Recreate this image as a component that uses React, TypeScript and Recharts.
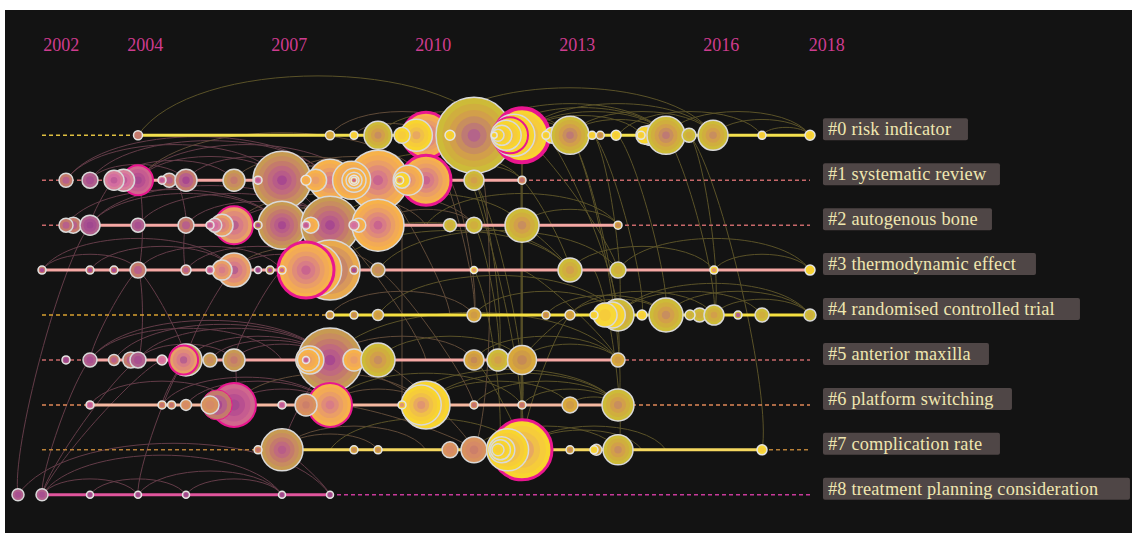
import React from "react";
import { ComposedChart, Line, Scatter, XAxis, YAxis } from "recharts";

const yearLabelAt = [2002.4, 2004.15, 2007.15, 2010.15, 2013.15, 2016.15, 2018.35];

const clusterNames = [
  "#0 risk indicator",
  "#1 systematic review",
  "#2 autogenous bone",
  "#3 thermodynamic effect",
  "#4 randomised controlled trial",
  "#5 anterior maxilla",
  "#6 platform switching",
  "#7 complication rate",
  "#8 treatment planning consideration",
];

// [year, size, tone, burst]
type NodeRow = [number, number, string, number?][];

const row0: NodeRow = [
  [2004, 4.5, "m"], [2008, 4.5, "d"], [2008.5, 4, "s"], [2009, 14, "g"], [2010, 23, "o", 3], [2009.8, 16, "y"], [2009.5, 8, "y"],
  [2010.5, 5, "y"], [2011, 38, "g"], [2012, 27, "y", 4], [2011.83, 21, "y"], [2011.75, 18, "y", 2], [2011.67, 15, "y"], [2011.58, 10, "y"],
  [2011.5, 6, "y"], [2011.42, 3, "s"], [2012.63, 8, "y"], [2012.5, 4, "s"], [2013, 19, "g"], [2013.46, 4, "s"], [2013.63, 4, "d"], [2013.96, 5, "s"],
  [2014.67, 10, "y"], [2014.56, 9, "y"], [2014.48, 4, "s"], [2015, 19, "g"], [2015.48, 7, "g"], [2015.98, 15, "g"], [2017, 4, "s"], [2018, 5, "s"],
];
const row1: NodeRow = [
  [2002.5, 7, "m"], [2003, 8, "p"], [2004, 15, "r", 2], [2003.7, 11, "k"], [2003.5, 10, "k"], [2004.65, 7, "m"], [2004.5, 4, "k"], [2005, 11, "m"],
  [2006, 11, "t"], [2007, 29, "t"], [2006.5, 4, "k"], [2008, 21, "o"], [2007.7, 11, "o"], [2007.5, 5, "o"], [2009, 30, "o"], [2008.45, 19, "o"],
  [2008.5, 12, "o"], [2008.5, 8, "o"], [2008.5, 5, "o"], [2008.5, 3, "o"], [2010, 25, "o", 3], [2009.63, 15, "o"], [2009.5, 8, "y"], [2009.45, 4, "y"], [2011, 10, "g"], [2012, 4, "c"],
];
const row2: NodeRow = [
  [2002.65, 8, "m"], [2002.5, 7, "m"], [2003, 10, "p"], [2004, 7, "p"], [2005, 8, "m"], [2006, 19, "e", 2], [2005.75, 11, "e"], [2005.6, 7, "k"], [2005.5, 4, "k"], [2006.5, 4, "t"],
  [2007, 24, "t"], [2008, 29, "t"], [2007.6, 8, "o"], [2007.5, 4, "k"], [2009, 26, "o"], [2008.6, 7, "o"], [2008.5, 5, "k"], [2010.5, 6.5, "g"], [2011, 8, "g"], [2012, 17, "g"], [2014, 4, "d"],
];
const row3: NodeRow = [
  [2002, 4, "m"], [2003, 4, "m"], [2003.5, 4, "m"], [2004, 8, "m"], [2005, 5, "m"], [2006, 17, "e"], [2005.75, 10, "e"], [2005.5, 4, "k"], [2006.5, 3.5, "p"], [2006.75, 4, "t"],
  [2007, 4, "o"], [2008, 30, "q"], [2007.7, 26, "o"], [2007.5, 28, "o", 3], [2008.5, 4, "m"], [2009, 7, "t"], [2011, 3.5, "y"], [2013, 12, "g"], [2014, 8, "g"], [2016, 4, "y"], [2018, 5, "y"],
];
const row4: NodeRow = [
  [2008, 4, "d"], [2008.5, 4, "d"], [2009, 5.5, "d"], [2011, 7, "d"], [2012.5, 4, "d"], [2013, 5, "d"], [2014, 16, "g"], [2013.88, 13, "y"], [2013.73, 12, "s"], [2013.5, 4, "s"],
  [2014.5, 5, "s"], [2015, 17, "g"], [2015.5, 5, "g"], [2015.7, 7, "g"], [2016, 10, "g"], [2016.5, 4, "g"], [2017, 7, "g"], [2018, 6, "g"],
];
const row5: NodeRow = [
  [2002.5, 4, "p"], [2003, 7, "p"], [2003.5, 5.5, "m"], [2003.85, 8, "m"], [2004, 8, "p"], [2004.5, 5, "k"], [2005, 16, "t"], [2004.95, 14.5, "e", 2], [2005.5, 7, "t"], [2006, 11, "t"],
  [2008, 32, "t"], [2007.58, 14, "o"], [2007.55, 11, "o"], [2007.5, 3.5, "k"], [2008.5, 11, "o"], [2009, 17, "g"], [2011, 10, "d"], [2011.5, 11, "g"], [2012, 14.5, "d"], [2014, 7, "d"],
];
const row6: NodeRow = [
  [2003, 4, "k"], [2004.5, 4, "c"], [2004.7, 4, "c"], [2005, 5.5, "c"], [2006, 22, "r", 2], [2005.65, 15, "m", 1], [2005.5, 9, "c"], [2007, 4, "k"], [2008, 22, "o", 2], [2007.5, 11, "c"],
  [2010, 24, "y"], [2009.9, 20, "y"], [2009.5, 4, "y"], [2011, 4, "c"], [2012, 4, "c"], [2013, 8, "d"], [2014, 16, "g"],
];
const row7: NodeRow = [
  [2006.5, 4, "c"], [2007, 21, "t"], [2008.5, 4, "d"], [2009, 4, "d"], [2010.5, 8, "c"], [2011, 13, "c"], [2012, 30, "y", 3], [2011.7, 21, "y"], [2011.58, 13, "y"], [2011.55, 10, "y"], [2011.5, 6, "y"],
  [2013, 4, "d"], [2013.55, 5.5, "d"], [2013.5, 4, "s"], [2014, 15, "g"], [2017, 5, "s"],
];
const row8: NodeRow = [[2001.5, 6, "p"], [2002, 6, "p"], [2003, 3.5, "p"], [2004, 3.5, "p"], [2005, 3.5, "p"], [2007, 3.5, "p"], [2008, 3.5, "p"]];

const nodeRows = [row0, row1, row2, row3, row4, row5, row6, row7, row8];

// [row, from, to, solid]
const rowSpans: [number, number, number, boolean][] = [
  [0, 2002, 2004, false], [0, 2004, 2018, true],
  [1, 2002, 2004, false], [1, 2004, 2012, true], [1, 2012, 2018, false],
  [2, 2002, 2003, false], [2, 2003, 2014, true], [2, 2014, 2018, false],
  [3, 2002, 2018, true],
  [4, 2002, 2008, false], [4, 2008, 2018, true],
  [5, 2002, 2003, false], [5, 2003, 2014, true], [5, 2014, 2018, false],
  [6, 2002, 2003, false], [6, 2003, 2014, true], [6, 2014, 2018, false],
  [7, 2002, 2007, false], [7, 2007, 2017, true], [7, 2017, 2018, false],
  [8, 2002, 2008, true], [8, 2008, 2018, false],
];

// same row co-citations: [row, from, to]
const sameRowLinks: [number, number, number][] = [
  [0, 2004, 2011.5], [0, 2008, 2011], [0, 2008.5, 2010], [0, 2009, 2012], [0, 2010, 2013], [0, 2011, 2013], [0, 2011, 2015], [0, 2012, 2015], [0, 2011.5, 2015],
  [0, 2012, 2016], [0, 2012, 2014.5], [0, 2013, 2016], [0, 2013, 2015], [0, 2014, 2017], [0, 2015, 2018], [0, 2016, 2018], [0, 2010, 2016], [0, 2017, 2018],
  [1, 2002.5, 2007], [1, 2003, 2008], [1, 2002.5, 2008], [1, 2003, 2005], [1, 2004, 2007], [1, 2004, 2008.5], [1, 2004, 2010], [1, 2003.5, 2006], [1, 2005, 2008],
  [1, 2006, 2009], [1, 2007, 2010], [1, 2007, 2009], [1, 2008, 2010], [1, 2009, 2011], [1, 2010, 2012], [1, 2008.5, 2012],
  [2, 2002.5, 2007], [2, 2003, 2007], [2, 2003, 2008], [2, 2004, 2008], [2, 2005, 2008], [2, 2006, 2008.5], [2, 2007, 2009], [2, 2007, 2011], [2, 2008, 2012],
  [2, 2009, 2011], [2, 2010, 2014], [2, 2012, 2014], [2, 2006, 2010],
  [3, 2002, 2006], [3, 2002, 2004], [3, 2003, 2006], [3, 2004, 2007], [3, 2005, 2008], [3, 2006, 2008], [3, 2006, 2009], [3, 2008, 2013], [3, 2009, 2014],
  [3, 2007, 2013], [3, 2013, 2016], [3, 2014, 2018], [3, 2016, 2018],
  [4, 2008, 2011], [4, 2009, 2014], [4, 2011, 2014], [4, 2012.5, 2015], [4, 2013, 2015], [4, 2014, 2018], [4, 2015, 2018], [4, 2014, 2017], [4, 2016, 2018], [4, 2013, 2016],
  [5, 2003, 2008], [5, 2003, 2007], [5, 2004, 2008], [5, 2005, 2008], [5, 2005.5, 2008], [5, 2006, 2008], [5, 2004, 2006], [5, 2008, 2011], [5, 2008, 2014],
  [5, 2009, 2012], [5, 2011, 2014], [5, 2012, 2014], [5, 2003.5, 2008],
  [6, 2003, 2006], [6, 2004.5, 2008], [6, 2005, 2008], [6, 2006, 2008], [6, 2006, 2010], [6, 2008, 2010], [6, 2008, 2012], [6, 2009.5, 2014], [6, 2010, 2014],
  [6, 2010, 2013], [6, 2012, 2014], [6, 2011, 2014], [6, 2013, 2014],
  [7, 2007, 2009], [7, 2007, 2010], [7, 2011, 2014], [7, 2012, 2015], [7, 2012, 2014.5], [7, 2008, 2012],
  [8, 2001.5, 2008], [8, 2002, 2007], [8, 2002, 2004], [8, 2003, 2005], [8, 2004, 2007], [8, 2005, 2007],
];

// links between rows: [from year, from row, to year, to row]
const crossLinks: [number, number, number, number][] = [
  [2001.5, 8, 2003, 2], [2002, 8, 2003, 5], [2002, 8, 2004, 5], [2002, 8, 2004.5, 5], [2004, 8, 2005, 5],
  [2003, 2, 2003.5, 1], [2004, 1, 2004, 3], [2004, 3, 2004, 5], [2004, 3, 2005, 5], [2004.8, 1, 2005, 2], [2005, 3, 2005, 2], [2005, 5, 2006, 3],
  [2006, 5, 2007, 3], [2003, 5, 2004, 3], [2006, 5, 2006, 6], [2004.5, 6, 2005, 5], [2007, 7, 2008, 5], [2007, 7, 2008, 8],
  [2010.5, 1, 2011, 4], [2011, 1, 2011.5, 5], [2011, 2, 2011.5, 5], [2012, 1, 2013, 3], [2012.5, 0, 2014, 4], [2013.5, 0, 2014.5, 4], [2014, 0, 2015, 4],
  [2015, 0, 2016, 4], [2015.5, 0, 2016, 4], [2015.5, 0, 2017, 7], [2013.5, 0, 2014, 4], [2013, 0, 2014, 5], [2013, 0, 2014, 6], [2012, 5, 2013, 4],
  [2012, 7, 2013, 4], [2013.5, 3, 2014, 7], [2011, 0, 2011, 7], [2010.5, 0, 2012, 7], [2011, 1, 2012, 6], [2010, 0, 2011, 4], [2011, 3, 2011.5, 7],
  [2012, 2, 2013, 3], [2012, 0, 2014, 3], [2012, 3, 2014, 5], [2011, 5, 2012, 7], [2009, 1, 2010.5, 4], [2008, 2, 2010, 5], [2009, 3, 2011, 6],
  [2009, 5, 2011, 7], [2008, 6, 2011, 7], [2008, 5, 2010, 6], [2008, 1, 2008, 3], [2007, 1, 2008, 2],
];

// straight bundle going down through 2012
const straightLinks: [number, number, number, number][] = [
  [2012, 0, 2012, 5], [2012, 0, 2012, 7], [2012, 2, 2012, 6], [2011.98, 1, 2011.98, 7], [2009.5, 2, 2009.5, 6],
];

const labelBoxWidths = [145, 177, 169, 213, 257, 166, 189, 177, 307];
const tonePalettes: Record<string, string[]> = {
  t: ["#c79a52", "#c88c60", "#c47a6c", "#c06a7e", "#b85c88", "#a8488f"],
  p: ["#b0608c", "#a84f90", "#a0478f"],
  m: ["#c47a6c", "#b8608a", "#a8488f"],
  r: ["#d0688e", "#c65c90", "#b84f90", "#a8488f"],
  e: ["#e8a066", "#e08c78", "#d87c86", "#b8608e"],
  q: ["#e8a94e", "#d8985c", "#c88668", "#bc7272", "#b0607e"],
  o: ["#f7b24a", "#f2aa56", "#ea9e66", "#e08c78", "#d87c86", "#c9648e"],
  c: ["#d8925e", "#d68a66", "#cc7f6a", "#c4716e"],
  y: ["#f8d52f", "#f6cc3a", "#f0c048", "#e8a860", "#e09570"],
  s: ["#f8d838", "#f6cc3a"],
  g: ["#cdbb38", "#d0ae3e", "#d29f4a", "#c88e5e", "#be7a74", "#b4648a"],
  d: ["#d8a83c", "#cf9b46", "#c68a55"],
  k: ["#d8809a", "#d46ea0", "#c05c98"],
};
const rowColors = [
  ["#f3e04e", "#e0c040"], ["#f6a8a4", "#c8686a"], ["#f6a8a4", "#c8686a"], ["#f6a8a4", "#c8686a"], ["#f5e040", "#d8a030"],
  ["#f6a8a4", "#c8686a"], ["#f5b8a0", "#e08858"], ["#f5d860", "#b88038"], ["#e0559c", "#c83a9a"],
];
const smallNode = 5.5;

const nodeData = nodeRows.flatMap((nodes, row) =>
  nodes.map(([x, size, tone, burst]) => ({ x, y: row, size, tone, burst: burst || 0 }))
);
const labelData = clusterNames.map((name, row) => ({ x: 2018.27, y: row, name, row }));

const linkColor = (year: number) => (year <= 2008.5 ? "#633c48" : year <= 2011 ? "#5f4a38" : "#5a5228");

// citation arc between two points, always bowing upward
const linkCurve = (context: any) => {
  let pts: number[][] = [];
  return {
    areaStart() {},
    areaEnd() {},
    lineStart() {
      pts = [];
    },
    lineEnd() {
      if (pts.length < 2) return;
      const [a, b] = pts[0][0] <= pts[1][0] ? pts : [pts[1], pts[0]];
      const dx = b[0] - a[0];
      const dy = b[1] - a[1];
      const len = Math.hypot(dx, dy) || 1;
      const bow = (Math.abs(dy) < 1 ? 0.165 : 0.05) * len * (4 / 3);
      const px = (dy / len) * bow;
      const py = (-dx / len) * bow;
      context.moveTo(a[0], a[1]);
      context.bezierCurveTo(a[0] + 0.15 * dx + px, a[1] + 0.15 * dy + py, b[0] - 0.15 * dx + px, b[1] - 0.15 * dy + py, b[0], b[1]);
    },
    point(x: number, y: number) {
      pts.push([x, y]);
    },
  };
};

function NodeShape(props: any) {
  const { cx, cy, payload } = props;
  const { size, tone, burst } = payload;
  const palette = tonePalettes[tone];
  const count = Math.min(palette.length, Math.max(1, Math.ceil(size / 4.5)));
  const rim = size > 5 ? "#d9d9d9" : "#e4e4e4";
  return (
    <g>
      {Array.from({ length: count }, (_, i) => (
        <circle key={i} cx={cx} cy={cy} r={size * (1 - i / count)} fill={palette[i]} />
      ))}
      {size <= 4 ? <circle cx={cx} cy={cy} r={size * 0.55} fill={palette[palette.length - 1]} /> : null}
      <circle cx={cx} cy={cy} r={size} fill="none" stroke={burst ? "#e9168f" : rim} strokeWidth={burst || 1.5} />
    </g>
  );
}

function LabelShape(props: any) {
  const { cx, cy, payload } = props;
  return (
    <g>
      <rect x={cx} y={cy - 17} width={labelBoxWidths[payload.row]} height={22} rx={2} fill="#4f4646" />
      <text x={cx + 5} y={cy} fontFamily="Liberation Serif" fontSize={18.3} letterSpacing={0.2} fill="#efe6b0">
        {payload.name}
      </text>
    </g>
  );
}

export default function App() {
  return (
    <div style={{ position: "absolute", left: 0, top: 0, width: 1132, height: 533, background: "#fff" }}>
      <div style={{ position: "absolute", left: 5, top: 10, width: 1127, height: 523, background: "#131313" }} />
      <ComposedChart width={1132} height={533} margin={{ top: 25, right: 0, bottom: 0, left: 0 }} style={{ position: "absolute", left: 0, top: 0 }}>
        <XAxis
          type="number"
          dataKey="x"
          orientation="top"
          height={30}
          domain={[2001.125, 2024.708]}
          allowDataOverflow
          ticks={yearLabelAt}
          interval={0}
          tickFormatter={(v: number) => String(Math.floor(v))}
          axisLine={false}
          tickLine={false}
          tickMargin={1}
          tickSize={3}
          tick={{ fill: "#cf3c90", fontSize: 18, fontFamily: "Liberation Serif" }}
        />
        <YAxis type="number" dataKey="y" hide reversed domain={[-1.787, 8.851]} allowDataOverflow />
        {sameRowLinks.map(([row, from, to], i) => (
          <Line
            key={`same-${i}`}
            data={[{ x: from, y: row }, { x: to, y: row }]}
            dataKey="y"
            type={linkCurve as any}
            stroke={linkColor(to)}
            strokeWidth={1}
            dot={false}
            activeDot={false}
            isAnimationActive={false}
          />
        ))}
        {crossLinks.map(([x1, y1, x2, y2], i) => (
          <Line
            key={`cross-${i}`}
            data={[{ x: x1, y: y1 }, { x: x2, y: y2 }]}
            dataKey="y"
            type={linkCurve as any}
            stroke={linkColor(Math.max(x1, x2))}
            strokeWidth={1}
            dot={false}
            activeDot={false}
            isAnimationActive={false}
          />
        ))}
        {straightLinks.map(([x1, y1, x2, y2], i) => (
          <Line
            key={`straight-${i}`}
            data={[{ x: x1, y: y1 }, { x: x2, y: y2 }]}
            dataKey="y"
            type="linear"
            stroke={linkColor(x2)}
            strokeWidth={1}
            dot={false}
            activeDot={false}
            isAnimationActive={false}
          />
        ))}
        <Scatter data={nodeData.filter((n) => n.size > smallNode)} shape={NodeShape} isAnimationActive={false} />
        {rowSpans.map(([row, from, to, solid], i) => (
          <Line
            key={`span-${i}`}
            data={[{ x: from, y: row }, { x: to, y: row }]}
            dataKey="y"
            type="linear"
            stroke={rowColors[row][solid ? 0 : 1]}
            strokeWidth={solid ? 3 : 1.5}
            strokeDasharray={solid ? undefined : "4 3"}
            dot={false}
            activeDot={false}
            isAnimationActive={false}
          />
        ))}
        <Scatter data={nodeData.filter((n) => n.size <= smallNode)} shape={NodeShape} isAnimationActive={false} />
        <Scatter data={labelData} shape={LabelShape} isAnimationActive={false} />
      </ComposedChart>
    </div>
  );
}
